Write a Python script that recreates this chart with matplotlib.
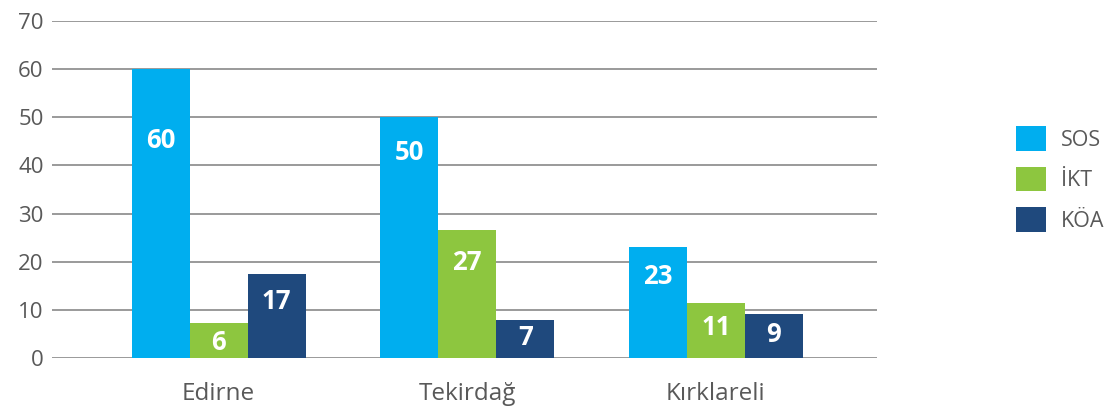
import matplotlib
matplotlib.use("Agg")
import matplotlib.pyplot as plt
from matplotlib.patches import Patch
import numpy as np

# veriler
provinces = ["Edirne", "Tekirdağ", "Kırklareli"]
series_names = ["SOS", "İKT", "KÖA"]
sos = [60, 50, 23.1]
ikt = [7.3, 26.6, 11.4]
koa = [17.5, 7.9, 9.1]
sos_labels = ["60", "50", "23"]
ikt_labels = ["6", "27", "11"]
koa_labels = ["17", "7", "9"]
yticks = [0, 10, 20, 30, 40, 50, 60, 70]

colors = ["#00AEEF", "#8DC63F", "#1F497D"]
# label centre heights (layout, data units)
label_y = [[45.1, 42.7, 17.0], [3.3, 19.8, 6.4], [11.8, 4.2, 4.8]]

plt.rcParams['font.family'] = ['Open Sans', 'DejaVu Sans']

fig = plt.figure(figsize=(11.09, 4.13), dpi=100)
ax = fig.add_axes([52 / 1109, 1 - 358 / 413, (877 - 52) / 1109, (358 - 21) / 413])

x = np.arange(len(provinces))
w = 0.2334
values = [sos, ikt, koa]
labels = [sos_labels, ikt_labels, koa_labels]
for i, (vals, labs) in enumerate(zip(values, labels)):
    xs = x + (i - 1) * w
    ax.bar(xs, vals, width=w, color=colors[i], zorder=3)
    for xx, lab, ly in zip(xs, labs, label_y[i]):
        ax.text(xx, ly, lab, ha='center', va='center', color='white',
                fontsize=18.5, fontweight='bold', zorder=4)

ax.set_xlim(-0.67, 2.648)
ax.set_ylim(0, 70)
ax.set_yticks(yticks)
ax.set_xticks(x)
ax.set_xticklabels(provinces)
ax.yaxis.grid(True, color='#7f7f7f', linewidth=1.1, zorder=0)
ax.set_axisbelow(True)
for s in ax.spines.values():
    s.set_visible(False)
ax.tick_params(axis='y', length=0, pad=6, labelsize=16, labelcolor='#595959')
ax.tick_params(axis='x', length=0, pad=17, labelsize=17.5, labelcolor='#595959')

handles = [Patch(facecolor=c, edgecolor='none') for c in colors]
fig.legend(handles, series_names, loc='center left',
           bbox_to_anchor=(1016 / 1109, 1 - 179 / 413), frameon=False,
           fontsize=15.5, handlelength=1.4, handleheight=1.4,
           handletextpad=0.7, labelspacing=0.72, borderpad=0,
           borderaxespad=0, labelcolor='#595959')

fig.savefig("out.png", dpi=100)
